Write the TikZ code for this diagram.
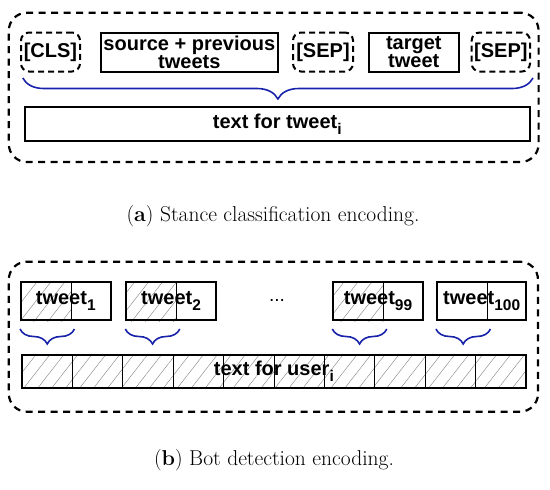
\documentclass[tikz,border=0pt]{standalone}
\usepackage{fontspec}
\newfontfamily\hv{Liberation Sans}
\usetikzlibrary{decorations.pathreplacing,patterns.meta,backgrounds}
\definecolor{braceblue}{RGB}{25,35,170}
\newcommand\mysub[1]{\raisebox{-0.32em}{\fontsize{15.5}{15.5}\selectfont #1}}
\tikzset{
  solidbox/.style={draw, line width=2pt, inner sep=0pt},
  dashbox/.style={draw, line width=2pt, dash pattern=on 6pt off 4pt, rounded corners=8pt, inner sep=0pt},
  outerbox/.style={draw, line width=2.2pt, dash pattern=on 7pt off 5.5pt, rounded corners=18pt},
  lbl/.style={font=\hv\bfseries\fontsize{20}{16}\selectfont, align=center},
  brc/.style={draw=braceblue, line width=1.6pt, decorate, decoration={brace, mirror, amplitude=#1}},
  hatch/.style={pattern={Lines[angle=52,distance=11pt,line width=0.4pt]}, pattern color=gray},
  divider/.style={draw, line width=0.6pt},
  captxt/.style={font=\fontsize{21.5}{26}\selectfont, anchor=base},
  tweetbox/.style={solidbox, lbl, minimum width=89.5pt, minimum height=38pt}
}
\begin{document}
\begin{tikzpicture}[x=1pt,y=-1pt]
\useasboundingbox (0,0) rectangle (550,490);
% ---------------- (a)
\node[outerbox, minimum width=529.8pt, minimum height=149.3pt] (oa) at (273.7,87.35) {};
\node[dashbox, lbl, minimum width=59pt, minimum height=39pt] (cls) at (50.5,52) {[CLS]};
\node[solidbox, lbl, minimum width=177.3pt, minimum height=39pt] (src) at (189.35,52) {source + previous\\tweets};
\node[dashbox, lbl, minimum width=60pt, minimum height=39pt] (sep1) at (323,52) {[SEP]};
\node[solidbox, lbl, minimum width=89.6pt, minimum height=39pt] (tgt) at (413.8,52) {target\\tweet};
\node[dashbox, lbl, minimum width=58.3pt, minimum height=39pt] (sep2) at (500.85,52) {[SEP]};
\coordinate (ba1) at (22.8,78);
\coordinate (ba2) at (533,78);
\draw[brc=21pt] (ba1) -- (ba2);
\node[solidbox, lbl, minimum width=505.5pt, minimum height=34pt] (txa) at (277.25,124) {text for tweet\mysub{i}};
\node[captxt] (capa) at (273,221) {(\textbf{a}) Stance classification encoding.};
% ---------------- (b)
\node[outerbox, minimum width=529.2pt, minimum height=150pt] (ob) at (273.4,336.7) {};
\node[tweetbox] (t1) at (65.75,301) {tweet\mysub{1}};
\node[tweetbox] (t2) at (171.05,301) {tweet\mysub{2}};
\node[tweetbox] (t99) at (378.05,301) {tweet\mysub{99}};
\node[tweetbox] (t100) at (481.7,301) {tweet\mysub{100}};
\begin{scope}[on background layer]
  \foreach \n in {t1,t2,t99}{
    \fill[hatch] (\n.north west) rectangle ([xshift=51pt]\n.south west);
  }
  \fill[hatch] (21.75,355) rectangle (526,388);
\end{scope}
\foreach \n in {t1,t2,t99,t100}{
  \draw[divider] ([xshift=51pt]\n.north west) -- ([xshift=51pt]\n.south west);
  \coordinate (\n b1) at ([yshift=-8pt]\n.south west);
  \coordinate (\n b2) at ([xshift=54.5pt,yshift=-8pt]\n.south west);
  \draw[brc=15pt] (\n b1) -- (\n b2);
}
\node[lbl, font=\hv\fontsize{19}{19}\selectfont] (dots) at (277,300) {...};
\foreach \i in {1,...,9}{
  \draw[divider] ({21.75+50.425*\i},355) -- ({21.75+50.425*\i},388);
}
\node[solidbox, lbl, minimum width=504.25pt, minimum height=33pt] (txb) at (273.875,371.5) {text for user\mysub{i}};
\node[captxt] (capb) at (274,465) {(\textbf{b}) Bot detection encoding.};
\end{tikzpicture}
\end{document}
